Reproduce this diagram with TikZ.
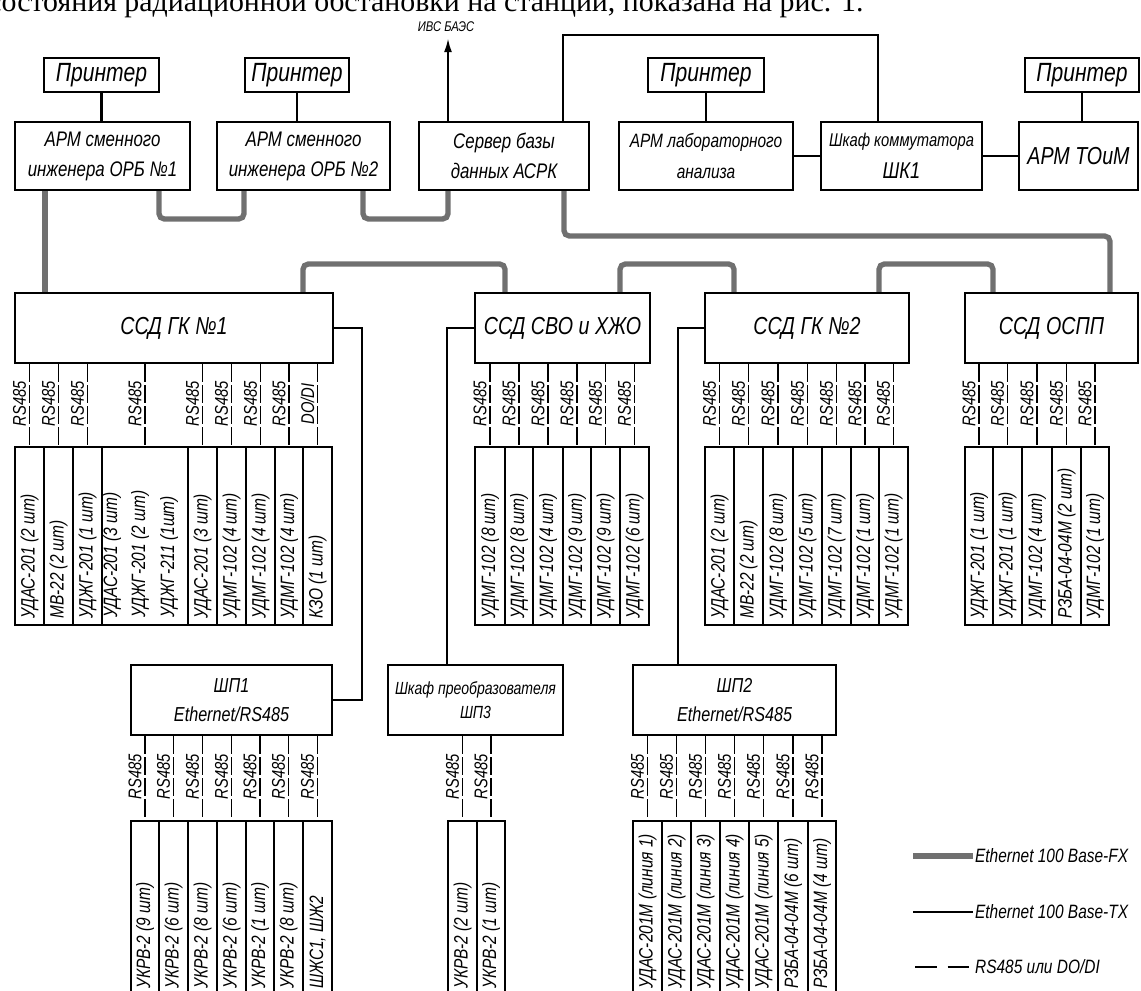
\documentclass[tikz,border=0pt]{standalone}
\usepackage{fontspec}
\setmainfont{Liberation Serif}
\newfontfamily\gostfont[FakeStretch=0.8]{Liberation Sans}
\usetikzlibrary{arrows.meta,calc}
\definecolor{FXGray}{RGB}{112,112,112}

\begin{document}
\begin{tikzpicture}[
    x=0.02cm, y=-0.02cm,
    fx/.style={line width=3pt, draw=FXGray, rounded corners=3pt},
    tx/.style={line width=1.3pt, draw=black},
    rs/.style={line width=0.8pt, draw=black, dash pattern=on 10pt off 2pt},
    unit/.style={draw, line width=1.4pt, fill=white, inner sep=0pt, align=center},
    printerbox/.style={unit, minimum height=0.68cm, font=\gostfont\itshape\fontsize{15}{18}\selectfont},
    armbox/.style={unit, minimum height=1.36cm, font=\gostfont\itshape\fontsize{12}{17}\selectfont},
    ssdbox/.style={unit, minimum height=1.4cm, font=\gostfont\itshape\fontsize{14}{17}\selectfont},
    shpbox/.style={unit, minimum height=1.4cm, font=\gostfont\itshape\fontsize{11.5}{16.4}\selectfont},
    cell/.style={draw, line width=1.4pt, inner sep=0pt, minimum height=3.56cm},
    lowcell/.style={cell, minimum height=3.6cm},
    devtxt/.style={rotate=90, anchor=west, inner sep=0pt, font=\gostfont\itshape\fontsize{11}{13}\selectfont},
    rstxt/.style={rotate=90, inner sep=0pt, font=\gostfont\itshape\fontsize{10.5}{12}\selectfont},
    lgdtxt/.style={anchor=west, inner sep=1pt, font=\gostfont\itshape\fontsize{11}{13}\selectfont}
]

\useasboundingbox (0,0) rectangle (1141,990);
\clip (0,0) rectangle (1141,990);

% Line of page text cut by the top edge
\node[anchor=base west, inner sep=0pt, font=\fontsize{17}{20}\selectfont] (pagetext) at (-12,12)
    {состояния радиационной обстановки на станции, показана на рис. 1.};

% Printers
\node[printerbox, minimum width=2.3cm] (prn1) at (101.5,75) {Принтер};
\node[printerbox, minimum width=2.08cm] (prn2) at (297,75) {Принтер};
\node[printerbox, minimum width=2.32cm] (prn3) at (706,75) {Принтер};
\node[printerbox, minimum width=2.28cm] (prn4) at (1082,75) {Принтер};

% Workstations, server and switch cabinet
\node[armbox, minimum width=3.5cm] (arm1) at (102.5,156) {АРМ сменного\\инженера ОРБ №1};
\node[armbox, minimum width=3.46cm] (arm2) at (303.5,156) {АРМ сменного\\инженера ОРБ №2};
\node[armbox, minimum width=3.4cm] (srv) at (504,156) {Сервер базы\\данных АСРК};
\node[armbox, minimum width=3.48cm, font=\gostfont\itshape\fontsize{11}{18}\selectfont] (lab) at (706,156) {АРМ лабораторного\\анализа};
\node[armbox, minimum width=3.22cm, font=\gostfont\itshape\fontsize{10.5}{18}\selectfont] (shk) at (901.5,156) {Шкаф коммутатора\\{\fontsize{13}{15}\selectfont ШК1}};
\node[armbox, minimum width=2.38cm, font=\gostfont\itshape\fontsize{14}{17}\selectfont] (toim) at (1078.5,156) {АРМ ТОиМ};

% Data collection stations
\node[ssdbox, minimum width=6.36cm] (gk1) at (174,328) {ССД ГК №1};
\node[ssdbox, minimum width=3.5cm] (svo) at (562.5,328) {ССД СВО и ХЖО};
\node[ssdbox, minimum width=4.08cm] (gk2) at (807,328) {ССД ГК №2};
\node[ssdbox, minimum width=3.46cm] (ospp) at (1051.5,328) {ССД ОСПП};

% Converter cabinets
\node[shpbox, minimum width=4.02cm] (shp1) at (231.5,700) {ШП1\\Ethernet/RS485};
\node[shpbox, minimum width=3.5cm, font=\gostfont\itshape\fontsize{10}{14}\selectfont] (shp3) at (475.5,700) {Шкаф преобразователя\\ШП3};
\node[shpbox, minimum width=4.06cm] (shp2) at (734.5,700) {ШП2\\Ethernet/RS485};

% Printer links and top network
\draw[tx] (prn1.south) -- (prn1.south |- arm1.north);
\draw[tx] (prn2.south) -- (prn2.south |- arm2.north);
\draw[tx] (prn3.south) -- (prn3.south |- lab.north);
\draw[tx] (prn4.south) -- (prn4.south |- toim.north);
\draw[tx] (lab.east) -- (shk.west);
\draw[tx] (shk.east) -- (toim.west);

\coordinate (ivs) at (448,38);
\draw[tx, -{Latex[length=8pt,width=4.5pt]}] (srv.north -| ivs) -- (ivs);
\node[inner sep=0pt, font=\gostfont\itshape\fontsize{8}{10}\selectfont] (ivslbl) at (446,27) {ИВС БАЭС};

\coordinate (srvup) at (563,35);
\coordinate (shkup) at (878,35);
\draw[tx] (srv.north -| srvup) -- (srvup) -- (shkup) -- (shk.north -| shkup);

% Fibre links (100Base-FX)
\coordinate (b1) at (159,219); \coordinate (b2) at (244,219);
\coordinate (b3) at (363,219); \coordinate (b4) at (448,219);
\draw[fx] (arm1.south -| b1) -- (b1) -- (b2) -- (arm2.south -| b2);
\draw[fx] (arm2.south -| b3) -- (b3) -- (b4) -- (srv.south -| b4);
\coordinate (c1) at (564,236); \coordinate (c2) at (1110,236);
\draw[fx] (srv.south -| c1) -- (c1) -- (c2) -- (ospp.north -| c2);
\coordinate (d0) at (45,240);
\draw[fx] (arm1.south -| d0) -- (gk1.north -| d0);
\coordinate (d1) at (303,264); \coordinate (d2) at (505,264);
\coordinate (d3) at (620,264); \coordinate (d4) at (734,264);
\coordinate (d5) at (879,264); \coordinate (d6) at (993,264);
\draw[fx] (gk1.north -| d1) -- (d1) -- (d2) -- (svo.north -| d2);
\draw[fx] (svo.north -| d3) -- (d3) -- (d4) -- (gk2.north -| d4);
\draw[fx] (gk2.north -| d5) -- (d5) -- (d6) -- (ospp.north -| d6);

% Copper links to the converter cabinets (100Base-TX)
\coordinate (e1) at (362,327);
\draw[tx] (gk1.east) -- (gk1.east -| e1) -- (shp1.east -| e1) -- (shp1.east);
\coordinate (e2) at (447,328);
\draw[tx] (svo.west) -- (svo.west -| e2) -- (shp3.north -| e2);
\coordinate (e3) at (678,328);
\draw[tx] (gk2.west) -- (gk2.west -| e3) -- (shp2.north -| e3);

% Devices of SSD GK No1
\foreach \xl/\xr/\lbl/\bus in {15/44/{УДАС-201 (2 шт)}/RS485, 44/73/{МВ-22 (2 шт)}/RS485,
    73/102/{УДЖГ-201 (1 шт)}/RS485, 188/217/{УДАС-201 (3 шт)}/RS485,
    217/246/{УДМГ-102 (4 шт)}/RS485, 246/275/{УДМГ-102 (4 шт)}/RS485,
    275/303/{УДМГ-102 (4 шт)}/RS485, 303/332/{КЗО (1 шт)}/{DO/DI}} {
  \pgfmathsetmacro\cw{(\xr-\xl)*0.02}
  \node[cell, minimum width=\cw cm] (gk1d\xl) at ({(\xl+\xr)/2},536) {};
  \node[devtxt] at ($(gk1d\xl.south)+(0,-7)$) {\lbl};
  \draw[rs] (gk1d\xl.north |- gk1.south) -- (gk1d\xl.north);
  \node[rstxt] at ($(gk1d\xl.north)+(-10,-42)$) {\bus};
}
\node[cell, minimum width=1.72cm] (gk1d102) at (145,536) {};
\node[devtxt] at (112,618) {УДАС-201 (3 шт)};
\node[devtxt] at (140,618) {УДЖГ-201 (2 шт)};
\node[devtxt] at (169,618) {УДЖГ-211 (1шт)};
\draw[rs] (gk1d102.north |- gk1.south) -- (gk1d102.north);
\node[rstxt] at ($(gk1d102.north)+(-10,-42)$) {RS485};

% Devices of SSD SVO
\foreach \xl/\xr/\lbl in {475/505/{УДМГ-102 (8 шт)}, 505/533/{УДМГ-102 (8 шт)},
    533/563/{УДМГ-102 (4 шт)}, 563/591/{УДМГ-102 (9 шт)},
    591/620/{УДМГ-102 (9 шт)}, 620/649/{УДМГ-102 (6 шт)}} {
  \pgfmathsetmacro\cw{(\xr-\xl)*0.02}
  \node[cell, minimum width=\cw cm] (svod\xl) at ({(\xl+\xr)/2},536) {};
  \node[devtxt] at ($(svod\xl.south)+(0,-7)$) {\lbl};
  \draw[rs] (svod\xl.north |- svo.south) -- (svod\xl.north);
  \node[rstxt] at ($(svod\xl.north)+(-10,-42)$) {RS485};
}

% Devices of SSD GK No2
\foreach \xl/\xr/\lbl in {705/734/{УДАС-201 (2 шт)}, 734/763/{МВ-22 (2 шт)},
    763/793/{УДМГ-102 (8 шт)}, 793/822/{УДМГ-102 (5 шт)}, 822/851/{УДМГ-102 (7 шт)},
    851/879/{УДМГ-102 (1 шт)}, 879/908/{УДМГ-102 (1 шт)}} {
  \pgfmathsetmacro\cw{(\xr-\xl)*0.02}
  \node[cell, minimum width=\cw cm] (gk2d\xl) at ({(\xl+\xr)/2},536) {};
  \node[devtxt] at ($(gk2d\xl.south)+(0,-7)$) {\lbl};
  \draw[rs] (gk2d\xl.north |- gk2.south) -- (gk2d\xl.north);
  \node[rstxt] at ($(gk2d\xl.north)+(-10,-42)$) {RS485};
}

% Devices of SSD OSPP
\foreach \xl/\xr/\lbl in {965/993/{УДЖГ-201 (1 шт)}, 993/1022/{УДЖГ-201 (1 шт)},
    1022/1052/{УДМГ-102 (4 шт)}, 1052/1081/{РЗБА-04-04М (2 шт)}, 1081/1109/{УДМГ-102 (1 шт)}} {
  \pgfmathsetmacro\cw{(\xr-\xl)*0.02}
  \node[cell, minimum width=\cw cm] (osppd\xl) at ({(\xl+\xr)/2},536) {};
  \node[devtxt] at ($(osppd\xl.south)+(0,-7)$) {\lbl};
  \draw[rs] (osppd\xl.north |- ospp.south) -- (osppd\xl.north);
  \node[rstxt] at ($(osppd\xl.north)+(-10,-42)$) {RS485};
}

% Devices of ShP1
\foreach \xl/\xr/\lbl in {131/159/{УКРВ-2 (9 шт)}, 159/188/{УКРВ-2 (6 шт)},
    188/217/{УКРВ-2 (8 шт)}, 217/246/{УКРВ-2 (6 шт)}, 246/274/{УКРВ-2 (1 шт)},
    274/303/{УКРВ-2 (8 шт)}, 303/332/{ШЖС1, ШЖ2}} {
  \pgfmathsetmacro\cw{(\xr-\xl)*0.02}
  \node[lowcell, minimum width=\cw cm] (shp1d\xl) at ({(\xl+\xr)/2},911) {};
  \node[devtxt] at ($(shp1d\xl.south)+(0,-13)$) {\lbl};
  \draw[rs] (shp1d\xl.north |- shp1.south) -- (shp1d\xl.north);
  \node[rstxt] at ($(shp1d\xl.north)+(-10,-43)$) {RS485};
}

% Devices of ShP3
\foreach \xl/\xr/\lbl in {448/477/{УКРВ-2 (2 шт)}, 477/505/{УКРВ-2 (1 шт)}} {
  \pgfmathsetmacro\cw{(\xr-\xl)*0.02}
  \node[lowcell, minimum width=\cw cm] (shp3d\xl) at ({(\xl+\xr)/2},911) {};
  \node[devtxt] at ($(shp3d\xl.south)+(0,-13)$) {\lbl};
  \draw[rs] (shp3d\xl.north |- shp3.south) -- (shp3d\xl.north);
  \node[rstxt] at ($(shp3d\xl.north)+(-10,-43)$) {RS485};
}

% Devices of ShP2
\foreach \xl/\xr/\lbl in {633/662/{УДАС-201М (линия 1)}, 662/691/{УДАС-201М (линия 2)},
    691/720/{УДАС-201М (линия 3)}, 720/749/{УДАС-201М (линия 4)},
    749/778/{УДАС-201М (линия 5)}, 778/808/{РЗБА-04-04М (6 шт)}, 808/836/{РЗБА-04-04М (4 шт)}} {
  \pgfmathsetmacro\cw{(\xr-\xl)*0.02}
  \node[lowcell, minimum width=\cw cm] (shp2d\xl) at ({(\xl+\xr)/2},911) {};
  \node[devtxt] at ($(shp2d\xl.south)+(0,-13)$) {\lbl};
  \draw[rs] (shp2d\xl.north |- shp2.south) -- (shp2d\xl.north);
  \node[rstxt] at ($(shp2d\xl.north)+(-10,-43)$) {RS485};
}

% Legend
\node[lgdtxt] (lgfx) at (973,856) {Ethernet 100 Base-FX};
\coordinate (lgfx0) at (913,856);
\draw[fx] (lgfx0) -- (lgfx.west);
\node[lgdtxt] (lgtx) at (973,912) {Ethernet 100 Base-TX};
\coordinate (lgtx0) at (913,912);
\draw[tx] (lgtx0) -- (lgtx.west);
\node[lgdtxt] (lgrs) at (973,967) {RS485 или DO/DI};
\coordinate (lgrs0) at (915,967);
\draw[tx, line width=1pt, dash pattern=on 12.5pt off 6pt] (lgrs0) -- (lgrs.west);

\end{tikzpicture}
\end{document}
